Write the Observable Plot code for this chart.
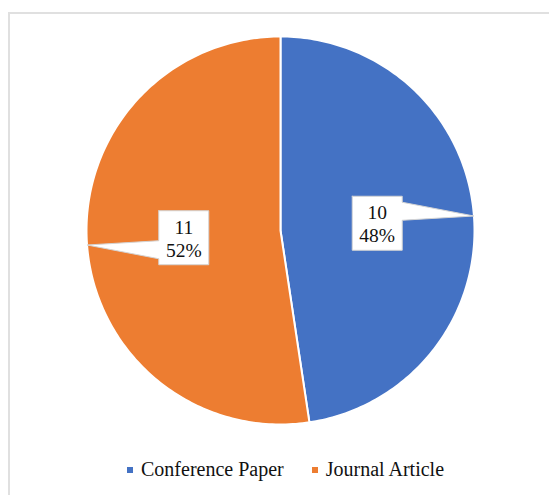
<!DOCTYPE html>
<html>
<head>
<meta charset="utf-8">
<script src="https://cdn.jsdelivr.net/npm/d3@7"></script>
<script src="https://cdn.jsdelivr.net/npm/@observablehq/plot@0.6"></script>
<style>
  body { margin: 0; background: #fff; }
  #wrap { position: relative; width: 549px; height: 495px; overflow: hidden; }
  #frame { position: absolute; left: 8px; top: 12px; width: 620px; height: 620px; border: 2px solid #e0e0e0; box-sizing: border-box; }
  #chart { position: absolute; left: 0; top: 0; }
  #legend { position: absolute; left: 127px; top: 459px; display: flex; align-items: center;
            font-size: 20px; line-height: 20px; color: #111; white-space: nowrap; }
  .item { display: flex; align-items: center; }
  .item + .item { margin-left: 28px; }
  .sw { width: 6px; height: 6px; margin-right: 8px; position: relative; top: 1px; }
</style>
</head>
<body>
<div id="wrap">
  <div id="frame"></div>
  <div id="chart"></div>
  <div id="legend" style="font-family:'Liberation Serif'"></div>
</div>
<script>
// Publication types and their counts
const categories = ["Conference Paper", "Journal Article"];
const counts = [10, 11];
const palette = ["#4472C4", "#ED7D31"];
const serifFont = "Liberation Serif";

const total = d3.sum(counts);
const arcs = d3.pie().sort(null).value(d => d)(counts);

// Slice outlines in unit-circle coordinates (angles clockwise from 12 o'clock, y up)
const slicePts = [];
arcs.forEach((a, i) => {
  const n = Math.max(2, Math.ceil((a.endAngle - a.startAngle) / (Math.PI / 180)));
  slicePts.push({key: categories[i], x: 0, y: 0});
  for (let k = 0; k <= n; k++) {
    const t = a.startAngle + (a.endAngle - a.startAngle) * k / n;
    slicePts.push({key: categories[i], x: Math.sin(t), y: Math.cos(t)});
  }
  slicePts.push({key: categories[i], x: 0, y: 0});
});

// Data-label callouts: box at half radius along the mid-angle, pointer to the rim
const R = 194;                 // pixels per unit
const hw = 25 / R, hh = 27 / R;
const labels = arcs.map((a, i) => {
  const mid = (a.startAngle + a.endAngle) / 2;
  return {
    key: categories[i],
    x: 0.5 * Math.sin(mid), y: 0.5 * Math.cos(mid),
    tx: Math.sin(mid), ty: Math.cos(mid),
    text: `${counts[i]}\n${Math.round(counts[i] / total * 100)}%`
  };
});
const calloutPts = [];
labels.forEach(l => {
  const s = l.ty > l.y ? 1 : -1;
  const b1 = l.y + s * 3 / R, b2 = l.y + s * 21 / R;
  const hi = Math.max(b1, b2), lo = Math.min(b1, b2);
  const L = l.x - hw, Rt = l.x + hw, T = l.y + hh, B = l.y - hh;
  let pts;
  if (l.tx > l.x) {
    pts = [[L, T], [Rt, T], [Rt, hi], [l.tx, l.ty], [Rt, lo], [Rt, B], [L, B], [L, T]];
  } else {
    pts = [[L, T], [Rt, T], [Rt, B], [L, B], [L, lo], [l.tx, l.ty], [L, hi], [L, T]];
  }
  pts.forEach(([x, y]) => calloutPts.push({key: l.key, x, y}));
});

const cx = 280, cy = 230;
const chart = Plot.plot({
  width: 549,
  height: 495,
  margin: 0,
  x: {domain: [-1, 1], range: [cx - R, cx + R], axis: null},
  y: {domain: [-1, 1], range: [cy + R, cy - R], axis: null},
  color: {domain: categories, range: palette},
  style: {background: "transparent", overflow: "visible", fontFamily: serifFont},
  marks: [
    Plot.line(slicePts, {x: "x", y: "y", z: "key", fill: "key", stroke: "white", strokeWidth: 2, strokeLinejoin: "round"}),
    Plot.line(calloutPts, {x: "x", y: "y", z: "key", fill: "white", stroke: "#d4d4d4", strokeWidth: 1}),
    Plot.text(labels, {x: "x", y: "y", text: "text", fontSize: 19.5, lineHeight: 1.2, fill: "#111", fontFamily: serifFont})
  ]
});
document.getElementById("chart").append(chart);

// Legend
const legend = document.getElementById("legend");
categories.forEach((c, i) => {
  const item = document.createElement("span");
  item.className = "item";
  const sw = document.createElement("span");
  sw.className = "sw";
  sw.style.background = palette[i];
  const tx = document.createElement("span");
  tx.textContent = c;
  item.append(sw, tx);
  legend.append(item);
});
</script>
</body>
</html>
